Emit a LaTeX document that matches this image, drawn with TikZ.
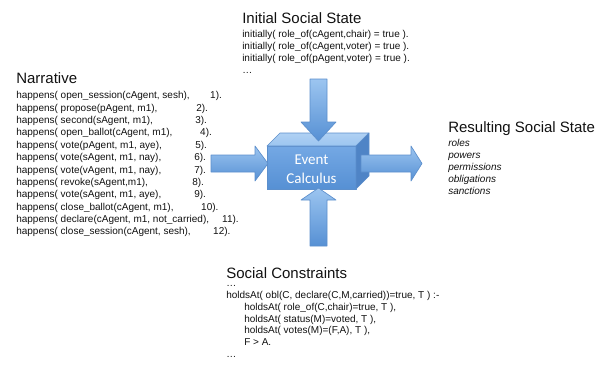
\documentclass[tikz,border=0pt]{standalone}
\usepackage{fontspec}
\setmainfont{Liberation Sans}
\newfontfamily\calibrifont{Carlito}
\definecolor{ink}{HTML}{111111}
\definecolor{ecedge}{HTML}{5C8FCC}
\definecolor{eclight}{HTML}{9CC5F0}
\definecolor{ecmid}{HTML}{74A8E4}
\definecolor{ecdark}{HTML}{5690D4}
\definecolor{ecside}{HTML}{4F84C6}
\newcommand{\happ}[3]{\makebox[#1pt][l]{happens( #2}#3).}

\begin{document}
\begin{tikzpicture}[x=0.75pt,y=-0.75pt]
\tikzset{
  title/.style={font=\fontsize{11.25}{13.5}\selectfont,ink,anchor=base west,inner sep=0pt},
  body/.style={font=\fontsize{7.5}{9}\selectfont,ink,align=left,anchor=north west,inner sep=0pt},
  blockarrow/.style={draw=ecedge,line width=.5pt,line join=round,top color=eclight,bottom color=ecdark},
  face/.style={draw=ecedge,line width=.5pt,line join=round}
}
\useasboundingbox (0,0) rectangle (614,365);

% event calculus box
\shade[face,top color=ecmid,bottom color=ecdark] (267,146) rectangle (356,189);
\shade[face,top color=eclight!80!white,bottom color=eclight] (267,146)--(280,133)--(369,133)--(356,146)--cycle;
\fill[face,fill=ecside] (356,146)--(369,133)--(369,176)--(356,189)--cycle;

% arrows into and out of the box
\shade[blockarrow] (310,79)--(327,79)--(327,122)--(336,122)--(318.5,141)--(301,122)--(310,122)--cycle;
\shade[blockarrow] (310,246)--(310,200)--(301,200)--(318.5,188)--(336,200)--(327,200)--(327,246)--cycle;
\shade[blockarrow] (211,155)--(255,155)--(255,146)--(268,163.5)--(255,181)--(255,172)--(211,172)--cycle;
\shade[blockarrow] (361,155)--(411,155)--(411,146)--(422,163.5)--(411,181)--(411,172)--(361,172)--cycle;

\node[font=\calibrifont\fontsize{11.25}{14.25}\selectfont,white,align=center] (ec) at (311.5,169.5) {Event\\Calculus};

\node[title] (initial) at (242,23.4) {Initial Social State};
\node[body,font=\fontsize{7.5}{8.85}\selectfont] (initialbody) at (242,30.4)
  {initially( role\_of(cAgent,chair) = true ).\\
   initially( role\_of(cAgent,voter) = true ).\\
   initially( role\_of(pAgent,voter) = true ).\\
   \ldots};

\node[title] (narrative) at (16,83.4) {Narrative};
\node[body,font=\fontsize{7.5}{9.27}\selectfont] (narrativebody) at (16,91.4)
  {\happ{145.5}{open\_session(cAgent, sesh),}{1}\\
   \happ{135}{propose(pAgent, m1),}{2}\\
   \happ{134.25}{second(sAgent, m1),}{3}\\
   \happ{138}{open\_ballot(cAgent, m1),}{4}\\
   \happ{134.25}{vote(pAgent, m1, aye),}{5}\\
   \happ{133.5}{vote(sAgent, m1, nay),}{6}\\
   \happ{133.5}{vote(vAgent, m1, nay),}{7}\\
   \happ{132}{revoke(sAgent,m1),}{8}\\
   \happ{133.5}{vote(sAgent, m1, aye),}{9}\\
   \happ{138.75}{close\_ballot(cAgent, m1),}{10}\\
   \happ{154.5}{declare(cAgent, m1, not\_carried),}{11}\\
   \happ{147.75}{close\_session(cAgent, sesh),}{12}};

\node[title] (resulting) at (448,132.4) {Resulting Social State};
\node[body,font=\fontsize{7.5}{9}\selectfont\itshape] (resultingbody) at (448,139.4)
  {roles\\powers\\permissions\\obligations\\sanctions};

\node[title] (constraints) at (226,278.4) {Social Constraints};
\node[body,font=\fontsize{7.5}{8.8}\selectfont] (constraintsbody) at (226,279.4)
  {\vphantom{(}\ldots\\
   holdsAt( obl(C, declare(C,M,carried))=true, T ) :-\\
   \hspace*{13.5pt}holdsAt( role\_of(C,chair)=true, T ),\\
   \hspace*{13.5pt}holdsAt( status(M)=voted, T ),\\
   \hspace*{13.5pt}holdsAt( votes(M)=(F,A), T ),\\
   \hspace*{13.5pt}F > A.\\
   \ldots};
\end{tikzpicture}
\end{document}
